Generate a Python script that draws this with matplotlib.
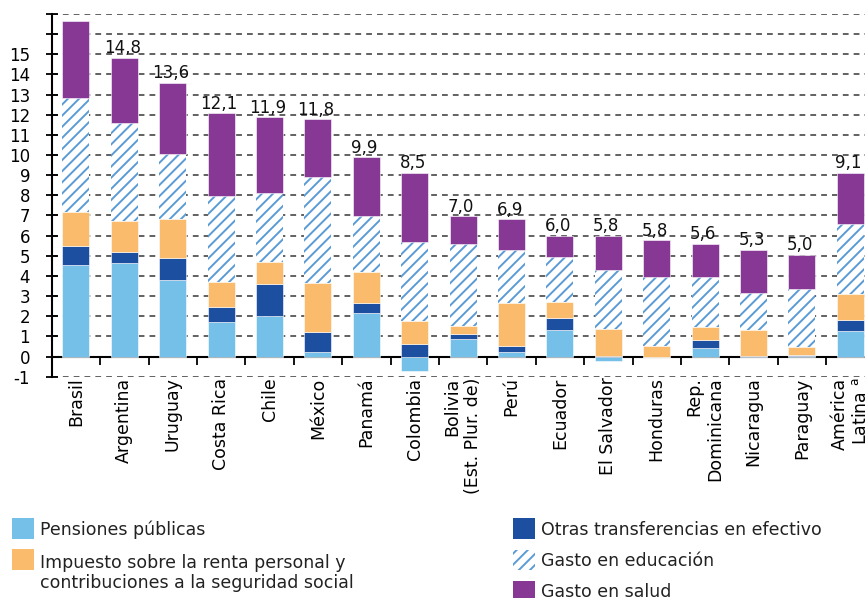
import numpy as np
import matplotlib
matplotlib.use("Agg")
import matplotlib.pyplot as plt
from matplotlib.patches import Rectangle

# Data (percentage points)
paises = ["Brasil", "Argentina", "Uruguay", "Costa Rica", "Chile", "México",
          "Panamá", "Colombia", "Bolivia\n(Est. Plur. de)", "Perú", "Ecuador",
          "El Salvador", "Honduras", "Rep.\nDominicana", "Nicaragua", "Paraguay",
          "América\nLatina $^{\\mathrm{a}}$"]
pensiones = [4.53, 4.64, 3.78, 1.71, 2.00, 0.25, 2.16, -0.70, 0.88, 0.25, 1.34,
             -0.20, 0.00, 0.43, 0.00, 0.02, 1.29]
otras = [0.96, 0.55, 1.11, 0.74, 1.60, 0.96, 0.49, 0.63, 0.25, 0.26, 0.57,
         0.05, 0.00, 0.37, 0.05, 0.07, 0.53]
impuesto = [1.66, 1.54, 1.94, 1.23, 1.09, 2.42, 1.53, 1.11, 0.38, 2.14, 0.79,
            1.33, 0.51, 0.69, 1.29, 0.37, 1.30]
educacion = [5.69, 4.85, 3.22, 4.28, 3.44, 5.29, 2.80, 3.95, 4.09, 2.62, 2.24,
             2.93, 3.44, 2.46, 1.81, 2.91, 3.48]
salud = [3.81, 3.25, 3.55, 4.11, 3.74, 2.85, 2.90, 3.43, 1.38, 1.56, 1.06,
         1.69, 1.82, 1.65, 2.16, 1.69, 2.52]
totales = ["", "14,8", "13,6", "12,1", "11,9", "11,8", "9,9", "8,5", "7,0", "6,9",
           "6,0", "5,8", "5,8", "5,6", "5,3", "5,0", "9,1"]

plt.rcParams["font.family"] = "DejaVu Sans"
plt.rcParams["hatch.linewidth"] = 1.4

W, H = 865, 598
fig = plt.figure(figsize=(W / 100, H / 100), dpi=100)
# axes run past the right edge of the canvas, as in the original crop
ax = fig.add_axes([51.7 / W, (H - 376.7) / H, 822.8 / W, 362.7 / H])

# spine position first: moving it later resets the tick labels
ax.spines["bottom"].set_position(("data", 0))
ax.spines["bottom"].set_linewidth(1.5)
ax.spines["left"].set_linewidth(1.5)
ax.spines["top"].set_visible(False)
ax.spines["right"].set_visible(False)

series = [
    (pensiones, dict(color="#74C0E8", edgecolor="white", linewidth=0.4)),
    (otras, dict(color="#1C4FA0", edgecolor="white", linewidth=0.4)),
    (impuesto, dict(color="#FBBB6C", edgecolor="white", linewidth=0.4)),
    (educacion, dict(facecolor="white", edgecolor="#5B9BD5", linewidth=0, hatch="///")),
    (salud, dict(color="#873794", edgecolor="white", linewidth=0.4)),
]

x = np.arange(len(paises))
pos_bottom = np.zeros(len(paises))
neg_bottom = np.zeros(len(paises))
for vals, style in series:
    vals = np.array(vals)
    bottom = np.where(vals >= 0, pos_bottom, neg_bottom)
    ax.bar(x, vals, bottom=bottom, width=0.56, zorder=3, **style)
    pos_bottom += np.clip(vals, 0, None)
    neg_bottom += np.clip(vals, None, 0)

for xi, top, lab in zip(x, pos_bottom, totales):
    ax.text(xi - 0.04, top + 0.02, lab, ha="center", va="bottom", fontsize=12,
            color="#111111", zorder=4)

ax.set_xlim(-0.5, len(paises) - 0.5)
ax.set_ylim(-1, 17)

ax.set_yticks(range(-1, 18))
ax.set_yticklabels([str(v) if v <= 15 else "" for v in range(-1, 18)], fontsize=12)
ax.tick_params(axis="y", direction="inout", length=9, width=1.3, pad=11)
ax.yaxis.grid(True, linestyle=(0, (3.2, 2.8)), color="#555555", linewidth=1.3, zorder=0)
ax.set_axisbelow(True)

ax.set_xticks(x)
ax.set_xticklabels(paises, rotation=90, fontsize=12.5, multialignment="right")
ax.tick_params(axis="x", which="major", length=0, pad=15)
ax.set_xticks(x[:-1] + 0.5, minor=True)
ax.tick_params(axis="x", which="minor", direction="out", length=6, width=1.3)


# legend drawn by hand in pixel positions
def px_rect(x0, y0, w, h, **kw):
    fig.add_artist(Rectangle((x0 / W, 1 - (y0 + h) / H), w / W, h / H,
                             transform=fig.transFigure, **kw))


def px_text(x0, yc, s, **kw):
    fig.text(x0 / W, 1 - yc / H, s, va="center", ha="left", fontsize=12.5,
             color="#222222", **kw)


px_rect(12, 518, 22, 21, color="#74C0E8", linewidth=0)
px_text(40, 530, "Pensiones públicas")
px_rect(12, 549, 22, 21, color="#FBBB6C", linewidth=0)
px_text(40, 573, "Impuesto sobre la renta personal y\ncontribuciones a la seguridad social",
        linespacing=1.15)
px_rect(513, 518, 22, 21, color="#1C4FA0", linewidth=0)
px_text(541, 530, "Otras transferencias en efectivo")
px_rect(513, 550, 22, 20, facecolor="white", edgecolor="#5B9BD5", linewidth=0, hatch="///")
px_text(541, 561, "Gasto en educación")
px_rect(513, 581, 22, 21, color="#873794", linewidth=0)
px_text(541, 592, "Gasto en salud")

fig.savefig("out.png", dpi=100)
